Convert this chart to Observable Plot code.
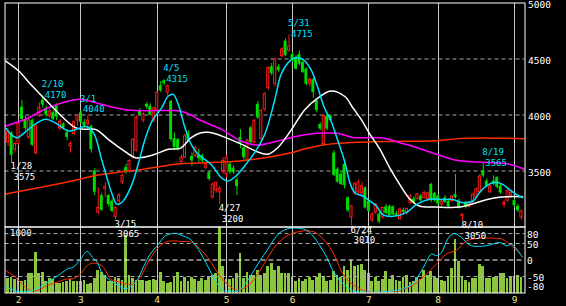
<!DOCTYPE html>
<html><head><meta charset="utf-8">
<script src="https://cdn.jsdelivr.net/npm/d3@7"></script>
<script src="https://cdn.jsdelivr.net/npm/@observablehq/plot@0.6"></script>
<style>
html,body{margin:0;padding:0;background:#000;}
#chart{position:relative;width:566px;height:306px;background:#000;overflow:hidden;}
#chart svg{position:absolute;left:0;top:0;}
</style></head><body><div id="chart"></div>
<script>
// trading days (month, days)
const monthDays = [
  [1,[27,28,31]],
  [2,[1,2,3,4,7,8,9,10,14,15,16,17,18,21,22,24,25,28]],
  [3,[1,2,3,4,7,8,9,10,11,14,15,16,17,18,22,23,24,25,28,29,30,31]],
  [4,[1,4,5,6,7,8,11,12,13,14,15,18,19,20,21,22,25,26,27,28]],
  [5,[2,6,9,10,11,12,13,16,17,18,19,20,23,24,25,26,27,30,31]],
  [6,[1,2,3,6,7,8,9,10,13,14,15,16,17,20,21,22,23,24,27,28,29,30]],
  [7,[1,4,5,6,7,8,11,12,13,14,15,19,20,21,22,25,26,27,28,29]],
  [8,[1,2,3,4,5,8,9,10,12,15,16,17,18,19,22,23,24,25,26,29,30,31]],
  [9,[1,2,5]]
];
const monthLabels = ["2","3","4","5","6","7","8","9"];

const open = [3755,3840,3690,3740,4070,3960,3800,3950,3660,3990,
4130,4060,3990,4020,4080,3880,3920,3840,3720,3830,
3950,4020,3935,3920,3900,3500,3130,3280,3340,3280,
3230,3090,3230,3400,3530,3500,3620,3680,4035,3950,
4095,4080,3950,4040,4260,4305,4200,4120,3790,3780,
3580,3620,3830,3630,3635,3640,3635,3530,3485,3265,
3325,3310,3500,3470,3560,3525,3420,3800,3705,3590,
3885,3755,4095,3785,4050,4240,4430,4275,4430,4525,
4660,4575,4540,4510,4540,4470,4410,4280,4315,4125,
3915,3740,3990,3990,3660,3515,3470,3560,3260,3085,
3300,3310,3300,3350,3230,3060,3130,3115,3085,3180,
3185,3180,3120,3070,3150,3130,3215,3250,3250,3275,
3260,3250,3380,3300,3275,3200,3260,3230,3230,3290,
3230,3100,3215,3180,3220,3265,3310,3500,3410,3310,
3410,3440,3365,3200,3235,3280,3235,3185,3085];
const high = [3870,3850,3760,3930,4130,3990,3975,3965,3910,4110,
4170,4080,4050,4040,4100,3960,3930,3870,3760,3945,
4000,4040,3960,4000,3910,3520,3350,3300,3395,3290,
3250,3180,3300,3470,3560,3600,3790,3990,4060,4020,
4110,4100,4070,4210,4300,4315,4270,4130,3840,3790,
3640,3830,3860,3660,3720,3695,3650,3570,3500,3390,
3400,3360,3620,3640,3580,3545,3440,3870,3720,3780,
3900,3960,4120,4050,4200,4430,4460,4510,4450,4600,
4680,4715,4560,4530,4570,4500,4420,4330,4330,4140,
3930,4000,4010,4000,3680,3530,3500,3580,3270,3190,
3400,3420,3400,3360,3240,3130,3210,3130,3180,3200,
3195,3190,3140,3170,3170,3170,3290,3270,3300,3290,
3320,3310,3390,3310,3290,3240,3280,3250,3280,3470,
3250,3115,3230,3230,3300,3350,3470,3565,3430,3375,
3455,3450,3380,3240,3330,3320,3250,3200,3150];
const low = [3720,3575,3660,3730,3945,3860,3780,3720,3640,3980,
4060,3980,3970,3950,3950,3860,3870,3770,3660,3820,
3900,3920,3880,3880,3660,3280,3110,3140,3260,3180,
3130,3065,3200,3380,3470,3480,3610,3670,3990,3930,
4050,3990,3930,4020,4200,4260,4170,3760,3690,3680,
3560,3610,3760,3540,3620,3575,3570,3510,3410,3250,
3300,3200,3470,3440,3470,3470,3280,3700,3600,3580,
3740,3740,3960,3770,4030,4220,4350,4250,4380,4510,
4520,4560,4470,4400,4440,4370,4260,4250,4150,4020,
3860,3730,3860,3940,3450,3390,3370,3340,3130,3010,
3280,3290,3260,3160,3130,3040,3110,3030,3070,3110,
3090,3100,3090,3060,3110,3110,3200,3200,3240,3220,
3250,3230,3220,3220,3190,3180,3210,3170,3220,3250,
3160,3050,3160,3170,3210,3250,3300,3440,3350,3300,
3370,3340,3290,3170,3220,3260,3180,3130,3060];
const close = [3845,3640,3740,3920,3960,3880,3950,3730,3900,4065,
4090,4000,4030,3960,3980,3940,3885,3800,3740,3935,
3990,3935,3905,3950,3690,3310,3170,3150,3355,3200,
3140,3170,3280,3455,3490,3590,3780,3975,4005,4005,
4070,4000,4060,4200,4215,4280,4255,3780,3710,3695,
3620,3810,3770,3590,3705,3610,3590,3560,3425,3380,
3395,3340,3590,3615,3490,3485,3360,3740,3620,3770,
3755,3945,3975,4035,4185,4420,4370,4495,4395,4585,
4530,4610,4485,4410,4455,4380,4275,4315,4200,4040,
3875,3990,3875,3950,3460,3400,3380,3370,3145,3185,
3380,3395,3365,3170,3140,3110,3200,3045,3170,3120,
3100,3110,3100,3155,3130,3160,3275,3215,3290,3235,
3305,3300,3235,3235,3205,3225,3220,3180,3270,3260,
3175,3110,3175,3220,3290,3335,3450,3455,3365,3365,
3385,3355,3305,3215,3320,3305,3190,3145,3140];
const volume = [217,242,202,217,167,192,293,303,621,303,
318,167,217,202,142,142,152,167,202,167,
177,177,192,131,142,217,343,318,268,167,
167,242,217,192,874,268,217,192,192,182,
167,192,202,192,318,167,142,152,242,318,
167,242,167,242,202,167,217,192,252,268,
293,990,394,202,202,217,293,596,217,318,
268,268,343,268,293,394,444,343,404,303,
293,293,242,167,217,167,202,242,192,242,
293,252,167,192,333,268,232,404,343,495,
394,419,434,343,293,167,242,167,202,333,
202,268,182,167,242,268,152,177,242,202,
343,268,333,232,217,192,167,252,369,808,
470,252,192,152,217,217,434,404,217,217,
242,232,293,293,217,232,252,268,242];

// moving averages: [day index, price]
const maShort = [[-0.5,3880],[0.7,3830],[2.6,3797],[5,3850],[7.9,3920],[10.8,3961],[13.6,3930],[17.4,3857],[20.3,3880],[22.3,3900],[24.6,3842],[27.1,3589],[30,3292],[31.4,3202],[33.2,3232],[35.7,3381],[37.5,3560],[39.5,3783],[41.5,3946],[44.3,4065],[46.2,4170],[47.6,4184],[49,4100],[51,3887],[52.8,3738],[54.8,3649],[56.7,3604],[58.5,3560],[61.5,3440],[63.4,3411],[65.7,3455],[68.2,3545],[71.1,3664],[74,3828],[76.8,4125],[78.7,4363],[80.7,4467],[82.6,4512],[85,4497],[87.3,4408],[89.3,4244],[91.2,4065],[93.1,3947],[95.1,3768],[97,3589],[98.5,3400],[99.4,3330],[100.5,3295],[102.3,3277],[104.3,3232],[106.2,3187],[108,3110],[110.9,3095],[114.8,3128],[117.7,3200],[121.5,3247],[125.3,3245],[128.2,3245],[131.1,3217],[134,3232],[135.9,3306],[137.8,3366],[140.7,3400],[142.6,3381],[144.5,3336],[146.5,3292],[148.3,3262]];
const maMid = [[-0.7,4482],[3.1,4393],[6.5,4274],[10.2,4155],[15.9,3976],[19.4,3887],[22.3,3872],[25.2,3872],[28.9,3783],[32.8,3694],[36.7,3619],[39.5,3625],[42.4,3649],[46.2,3694],[49.6,3702],[52.8,3798],[55.4,3840],[57.7,3845],[60,3830],[62.6,3800],[67.2,3740],[72,3670],[74.9,3650],[77.8,3710],[81.5,3860],[85.6,4050],[89.3,4150],[93,4214],[97.1,4165],[99.4,4065],[101.7,3965],[104.3,3830],[107.1,3700],[110,3530],[112.9,3380],[115.8,3250],[118.6,3187],[123.5,3178],[130.2,3178],[135,3217],[139.7,3256],[143.7,3270],[148.3,3270]];
const maLong = [[-0.7,3902],[5,3962],[11.6,4065],[20.3,4140],[25.2,4110],[30.9,4065],[35.8,4042],[47.3,4040],[49.6,4036],[52.8,4000],[54.8,3962],[61.5,3872],[67.2,3768],[72,3732],[77.8,3768],[83.6,3812],[89.3,3836],[95,3836],[99.4,3800],[108,3795],[112.9,3753],[117.7,3710],[123.5,3649],[129.3,3595],[135,3580],[143.7,3565],[148.9,3515]];
const maXLong = [[-0.7,3295],[8.8,3350],[18.4,3410],[25.2,3460],[30.9,3485],[39.5,3518],[49.6,3565],[58,3575],[66.9,3590],[75.5,3625],[81.2,3660],[86,3700],[91.3,3735],[99.1,3755],[112.9,3765],[123.5,3770],[130.2,3790],[136.8,3795],[148.9,3788]];

// oscillator (lower panel): [day index, value]
const oscFast = [[-0.7,-80],[1.7,-92],[3.6,-97],[5.5,-95],[7.3,-92],[9.3,-82],[12.2,-62],[15.1,-42],[17.1,-27],[18.8,-22],[20.9,3],[22.8,26],[24.3,8],[25.7,-7],[27.2,-42],[29.5,-62],[31.8,-77],[33.8,-87],[35.8,-77],[37.2,-62],[39,-22],[41,18],[43,43],[45.3,73],[47.3,80],[48.7,80],[50.5,73],[52.5,63],[54.5,38],[56.2,8],[58.2,-32],[60.3,-72],[62,-92],[64,-94],[66.3,-94],[68.3,-72],[70.3,-42],[72.6,-2],[74.6,28],[76.4,58],[78.4,83],[81.2,96],[84.1,96],[86.1,90],[87.9,73],[89.9,43],[91.9,8],[93.6,-32],[95.6,-62],[97.7,-82],[99.4,-94],[102,-97],[106.3,-97],[110.9,-94],[113.8,-87],[116.6,-72],[119.5,-27],[122.1,18],[123.5,13],[125,23],[126.7,63],[128.4,80],[130.2,73],[132.2,53],[133.6,43],[137.9,43],[141.7,53],[143.7,43],[145.1,48],[146.6,33],[148.3,8]];
const oscSlow = [[-0.7,-32],[2.1,-52],[4.4,-77],[6.5,-92],[8.5,-92],[11.3,-77],[14.2,-67],[17.1,-57],[18.8,-57],[20.9,-42],[22.8,-17],[24.3,-10],[26,-12],[27.5,-22],[29.5,-57],[32.3,-67],[34.6,-74],[36.1,-72],[38.1,-52],[40.1,-12],[41.8,18],[43.8,43],[45.9,56],[47.6,58],[50.2,56],[52.5,55],[55.4,33],[58.2,-2],[60.3,-37],[63.1,-72],[66,-92],[67.7,-87],[70.3,-67],[72.6,-32],[75.5,18],[77.5,48],[80.4,73],[82.7,83],[85,88],[87.9,86],[89.9,73],[92.8,38],[94.8,-2],[96.5,-42],[98.5,-67],[100.5,-82],[102.3,-92],[104.3,-97],[109.2,-97],[112.9,-92],[116.6,-77],[120.7,-42],[123.5,-12],[126.4,18],[129.3,30],[132.2,58],[135.9,66],[139.7,66],[142.5,63],[145.1,43],[146.8,28],[148.3,10]];

// annotated highs / lows
const highDates = ["2/10","3/1","4/5","5/31","8/19"];
const highVals = [4170,4040,4315,4715,3565];
const lowDates = ["1/28","3/15","4/27","6/24","8/10"];
const lowVals = [3575,3065,3200,3010,3050];

const priceTicks = [3500,4000,4500,5000];
const priceGrid = [3500,4000,4500];
const oscTicks = [80,50,0,-50,-80];
const oscGrid = [80,50,-50];
const volTop = [1000];

// ---- build
const dates = monthDays.flatMap(([m, ds]) => ds.map(d => `${m}/${d}`));
const candles = dates.map((date, i) => ({i, date, open: open[i], high: high[i], low: low[i], close: close[i], vol: volume[i]}));
const up = candles.filter(d => d.close >= d.open);
const down = candles.filter(d => d.close < d.open);
const monthIdx = monthDays.slice(1).map(([m, ds]) => dates.indexOf(`${m}/${ds[0]}`));
const highs = highDates.map((d, k) => ({i: dates.indexOf(d), date: d, v: highVals[k]}));
const lows = lowDates.map((d, k) => ({i: dates.indexOf(d), date: d, v: lowVals[k]}));

const W = 566, H = 306;
const xDomain = [-0.89, 149.03];
const FONT = "DejaVu Sans Mono";
const RED = "#ff1a1a", GREEN = "#00dc00", CYAN = "#00e1ff", MAG = "#ff00ff", ORANGE = "#ff2c00";
const baseStyle = {background: "transparent", fontFamily: FONT, fontSize: "9.5px", color: "white"};
const mainM = {marginLeft: 4.5, marginRight: 41.5, marginTop: 2.5, marginBottom: 79.5};
const lowM = {marginLeft: 4.5, marginRight: 41.5, marginTop: 226.5, marginBottom: 13.5};
const P = (d) => d[0], V = (d) => d[1];
const LFS = 9;

const volPlot = Plot.plot({
  width: W, height: H, ...lowM, style: baseStyle,
  x: {domain: xDomain, axis: null},
  y: {domain: [0, 1000], axis: null},
  marks: [
    Plot.rect(candles, {x1: d => d.i - 0.4, x2: d => d.i + 0.4, y1: 0, y2: "vol", fill: "#8cc63f", shapeRendering: "crispEdges"}),
    Plot.text(volTop, {y: d => d, frameAnchor: "left", text: d => String(d), dx: 5, dy: 6, textAnchor: "start", fill: "white", fontSize: LFS})
  ]
});

const lowPlot = Plot.plot({
  width: W, height: H, ...lowM, style: baseStyle,
  x: {domain: xDomain},
  y: {domain: [-100, 100]},
  marks: [
    Plot.ruleX(monthIdx, {stroke: "#c8c8c8", shapeRendering: "crispEdges"}),
    Plot.ruleY(oscGrid, {stroke: "#a8a8a8", strokeDasharray: "4,3"}),
    Plot.ruleY([0], {stroke: "white", strokeDasharray: "5,3"}),
    Plot.line(oscSlow, {x: P, y: V, stroke: ORANGE, strokeWidth: 1, curve: "catmull-rom", clip: true}),
    Plot.line(oscFast, {x: P, y: V, stroke: CYAN, strokeWidth: 1, curve: "catmull-rom", clip: true}),
    Plot.frame({stroke: "white"}),
    Plot.axisY({anchor: "right", ticks: oscTicks, tickSize: 0, tickPadding: 2, tickFormat: d => String(d), fill: "white", dy: 1}),
    Plot.axisX({ticks: monthIdx, tickSize: 0, tickPadding: 3, tickFormat: d => monthLabels[monthIdx.indexOf(d)], fill: "#f0e68c"})
  ]
});

const mainPlot = Plot.plot({
  width: W, height: H, ...mainM, style: baseStyle,
  x: {domain: xDomain, axis: null},
  y: {domain: [3000, 5000]},
  marks: [
    Plot.ruleY(priceGrid, {stroke: "#a8a8a8", strokeDasharray: "4,3"}),
    Plot.ruleX(monthIdx, {stroke: "#c8c8c8", shapeRendering: "crispEdges"}),
    Plot.ruleX(up, {x: "i", y1: "low", y2: "high", stroke: RED, clip: true}),
    Plot.ruleX(down, {x: "i", y1: "low", y2: "high", stroke: GREEN, clip: true}),
    Plot.rect(up, {x1: d => d.i - 0.3, x2: d => d.i + 0.3, y1: "open", y2: "close", fill: "black", stroke: RED, clip: true}),
    Plot.rect(down, {x1: d => d.i - 0.42, x2: d => d.i + 0.42, y1: "open", y2: "close", fill: GREEN, clip: true}),
    Plot.line(maXLong, {x: P, y: V, stroke: ORANGE, curve: "catmull-rom", clip: true}),
    Plot.line(maLong, {x: P, y: V, stroke: MAG, curve: "catmull-rom", clip: true}),
    Plot.line(maMid, {x: P, y: V, stroke: "white", curve: "catmull-rom", clip: true}),
    Plot.line(maShort, {x: P, y: V, stroke: CYAN, curve: "catmull-rom", clip: true}),
    Plot.frame({stroke: "white"}),
    Plot.axisY({anchor: "right", ticks: priceTicks, tickSize: 0, tickPadding: 3, tickFormat: d => String(d), fill: "white", dy: 2}),
    Plot.text(highs, {x: "i", y: "v", text: "date", fill: CYAN, textAnchor: "start", dx: -1, dy: -11.5, fontSize: LFS}),
    Plot.text(highs, {x: "i", y: "v", text: d => String(d.v), fill: CYAN, textAnchor: "start", dx: 2, dy: -1, fontSize: LFS}),
    Plot.text(lows, {x: "i", y: "v", text: "date", fill: "white", textAnchor: "start", dx: -1, dy: 4, fontSize: LFS}),
    Plot.text(lows, {x: "i", y: "v", text: d => String(d.v), fill: "white", textAnchor: "start", dx: 2, dy: 14.5, fontSize: LFS})
  ]
});

const root = document.getElementById("chart");
root.append(volPlot, lowPlot, mainPlot);
</script>
</body></html>
